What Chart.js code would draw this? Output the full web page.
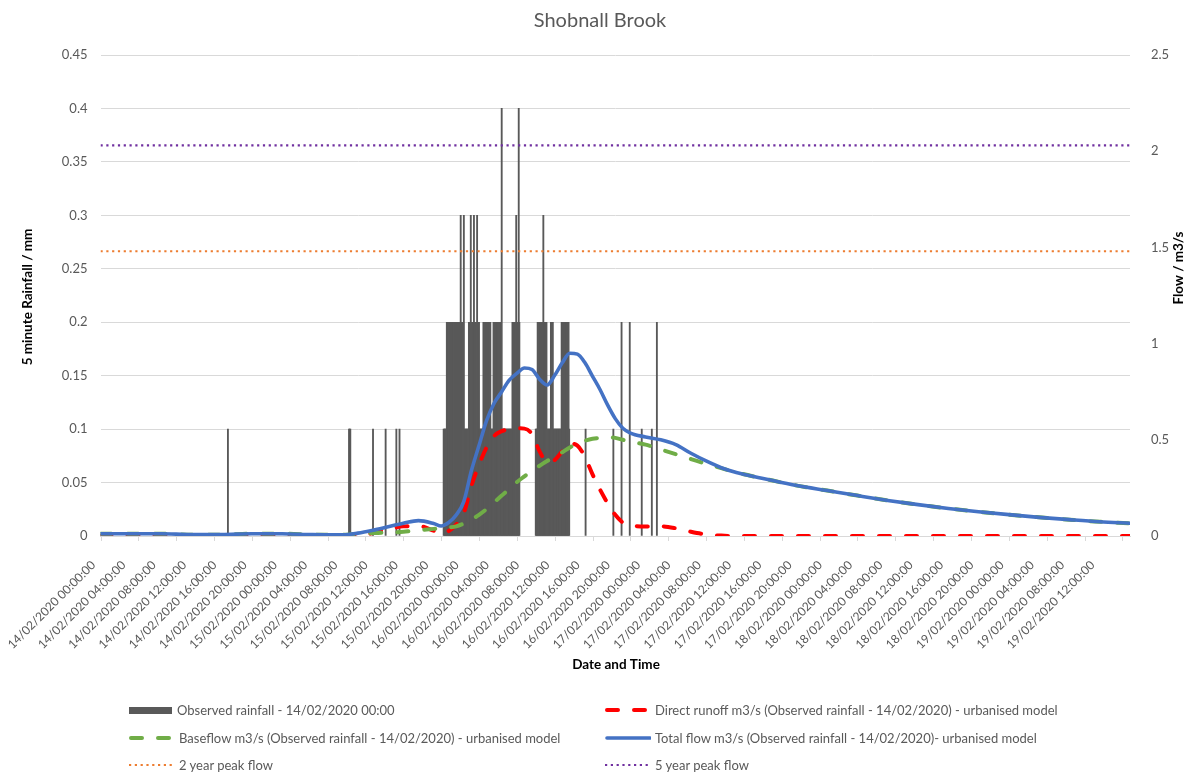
<!DOCTYPE html>
<html>
<head>
<meta charset="utf-8">
<title>Shobnall Brook</title>
<script src="https://cdn.jsdelivr.net/npm/chart.js@4.4.1/dist/chart.umd.min.js"></script>
<style>
  html, body { margin: 0; padding: 0; background: #ffffff; }
  #wrap { position: relative; width: 1189px; height: 775px; overflow: hidden; font-family: Lato, "Open Sans", sans-serif; }
  #chart { position: absolute; left: 0; top: 0; }
  .lg { position: absolute; height: 20px; display: flex; align-items: center; font-size: 13px; color: #595959; white-space: nowrap; }
  .lg svg { display: block; margin-right: 4px; flex: none; }
</style>
</head>
<body>
<div id="wrap">
  <canvas id="chart" width="1189" height="775"></canvas>
  <div id="legend"></div>
</div>
<script>
// ---- text ----
const chartTitle = 'Shobnall Brook';
const xTitle = 'Date and Time';
const rainTitle = '5 minute Rainfall / mm';
const flowTitle = 'Flow / m3/s';
const seriesNames = [
  'Observed rainfall - 14/02/2020 00:00',
  'Direct runoff m3/s (Observed rainfall - 14/02/2020) - urbanised model',
  'Baseflow m3/s (Observed rainfall - 14/02/2020) - urbanised model',
  'Total flow m3/s (Observed rainfall - 14/02/2020)- urbanised model',
  '2 year peak flow',
  '5 year peak flow'
];

// x axis labels, one every 4 hours from 14/02/2020 00:00
const tickLabels = [
  '14/02/2020 00:00:00', '14/02/2020 04:00:00', '14/02/2020 08:00:00', '14/02/2020 12:00:00',
  '14/02/2020 16:00:00', '14/02/2020 20:00:00', '15/02/2020 00:00:00', '15/02/2020 04:00:00',
  '15/02/2020 08:00:00', '15/02/2020 12:00:00', '15/02/2020 16:00:00', '15/02/2020 20:00:00',
  '16/02/2020 00:00:00', '16/02/2020 04:00:00', '16/02/2020 08:00:00', '16/02/2020 12:00:00',
  '16/02/2020 16:00:00', '16/02/2020 20:00:00', '17/02/2020 00:00:00', '17/02/2020 04:00:00',
  '17/02/2020 08:00:00', '17/02/2020 12:00:00', '17/02/2020 16:00:00', '17/02/2020 20:00:00',
  '18/02/2020 00:00:00', '18/02/2020 04:00:00', '18/02/2020 08:00:00', '18/02/2020 12:00:00',
  '18/02/2020 16:00:00', '18/02/2020 20:00:00', '19/02/2020 00:00:00', '19/02/2020 04:00:00',
  '19/02/2020 08:00:00', '19/02/2020 12:00:00'
];

// Observed 5-minute rainfall as runs: [first 5-min step after 14/02 00:00, number of steps, mm].
// Later runs overwrite earlier ones where they overlap (heavier bursts inside a wet spell).
const rainRuns = [
  [202, 1, 0.1], [394, 3, 0.1], [432, 1, 0.1], [452, 1, 0.1], [469, 1, 0.1], [474, 1, 0.1],
  [544, 121, 0.1], [690, 54, 0.1],
  [769, 1, 0.1], [813, 1, 0.1], [826, 1, 0.2], [839, 1, 0.2], [858, 1, 0.1], [874, 1, 0.1], [882, 1, 0.2],
  [549, 22, 0.2], [571, 1, 0.3], [572, 4, 0.2], [576, 1, 0.3],
  [584, 17, 0.2], [587, 1, 0.3], [592, 1, 0.3], [597, 1, 0.3],
  [607, 12, 0.2], [623, 13, 0.2], [636, 1, 0.4],
  [653, 12, 0.2], [659, 1, 0.3], [663, 1, 0.4],
  [693, 15, 0.2], [702, 1, 0.3], [714, 4, 0.2], [731, 12, 0.2]
];

// Modelled flows (m3/s), sampled at these hours after 14/02/2020 00:00
const flowHours = [
  0, 4, 8, 12, 16, 20, 24, 28, 32, 34, 36, 38, 40, 42, 44, 45, 46, 47, 48, 49,
  50, 51, 52, 53, 54, 55, 56, 57, 58, 59, 60, 61, 62, 63, 64, 65, 66, 67, 68, 69,
  70, 72, 74, 76, 78, 80, 82, 84, 88, 92, 96, 100, 104, 108, 112, 116, 120, 124, 128, 132, 136
];
const directRunoff = [
  0, 0, 0, 0, 0, 0, 0, 0, 0, 0.003, 0.015, 0.035, 0.05, 0.052, 0.028, 0.012, 0.026, 0.06, 0.12, 0.26,
  0.37, 0.46, 0.52, 0.545, 0.555, 0.56, 0.558, 0.53, 0.44, 0.385, 0.395, 0.44, 0.48, 0.47, 0.41, 0.32, 0.24, 0.17, 0.11, 0.07,
  0.055, 0.05, 0.05, 0.04, 0.022, 0.008, 0.002, 0, 0, 0, 0, 0, 0, 0, 0, 0, 0, 0, 0, 0, 0
];
const baseflow = [
  0.012, 0.012, 0.012, 0.007, 0.007, 0.012, 0.012, 0.007, 0.006, 0.012, 0.015, 0.018, 0.022, 0.03, 0.037, 0.04, 0.044, 0.05, 0.065, 0.085,
  0.11, 0.14, 0.175, 0.21, 0.245, 0.28, 0.31, 0.34, 0.365, 0.39, 0.41, 0.435, 0.46, 0.48, 0.495, 0.505, 0.51, 0.512, 0.51, 0.5,
  0.49, 0.475, 0.45, 0.425, 0.4, 0.375, 0.353, 0.33, 0.295, 0.262, 0.236, 0.21, 0.185, 0.163, 0.143, 0.126, 0.111, 0.097, 0.085, 0.074, 0.066
];
const totalFlow = [
  0.012, 0.012, 0.012, 0.007, 0.007, 0.012, 0.012, 0.007, 0.006, 0.015, 0.03, 0.048, 0.066, 0.08, 0.065, 0.052, 0.07, 0.11, 0.18, 0.34,
  0.47, 0.6, 0.69, 0.75, 0.81, 0.845, 0.873, 0.865, 0.815, 0.785, 0.835, 0.9, 0.95, 0.945, 0.9, 0.83, 0.76, 0.68, 0.61, 0.56,
  0.535, 0.515, 0.5, 0.475, 0.43, 0.39, 0.355, 0.33, 0.295, 0.262, 0.236, 0.21, 0.185, 0.163, 0.143, 0.126, 0.111, 0.097, 0.085, 0.074, 0.066
];
const peakFlow2yr = 1.48;
const peakFlow5yr = 2.03;
const axisEndHour = 136;

// ---- build chart data ----
const rainBySlot = new Map();
rainRuns.forEach(([start, n, mm]) => {
  for (let k = 0; k < n; k++) rainBySlot.set(start + k, mm);
});
const rainPoints = [...rainBySlot.entries()]
  .sort((a, b) => a[0] - b[0])
  .map(([slot, mm]) => ({ x: slot / 12, y: mm }));

const toPoints = vals => vals.map((v, i) => ({ x: flowHours[i], y: v }));
const flat = v => [{ x: 0, y: v }, { x: axisEndHour, y: v }];

const GREY = '#595959';
const lineBase = { type: 'line', yAxisID: 'y1', pointRadius: 0, fill: false, cubicInterpolationMode: 'monotone' };

const datasets = [
  { type: 'bar', label: seriesNames[0], data: rainPoints, yAxisID: 'y', backgroundColor: '#595959',
    borderWidth: 0, barThickness: 1.2, order: 10 },
  { ...lineBase, label: seriesNames[1], data: toPoints(directRunoff), borderColor: '#ff0000', borderWidth: 4,
    borderDash: [11, 16], borderCapStyle: 'round', order: 6 },
  { ...lineBase, label: seriesNames[2], data: toPoints(baseflow), borderColor: '#70ad47', borderWidth: 4,
    borderDash: [11, 16], borderCapStyle: 'round', order: 5 },
  { ...lineBase, label: seriesNames[3], data: toPoints(totalFlow), borderColor: '#4472c4', borderWidth: 3.6,
    borderCapStyle: 'round', order: 4 },
  { ...lineBase, label: seriesNames[4], data: flat(peakFlow2yr), borderColor: '#ed7d31', borderWidth: 2.2,
    borderDash: [2.2, 3.6], order: 3 },
  { ...lineBase, label: seriesNames[5], data: flat(peakFlow5yr), borderColor: '#7030a0', borderWidth: 2.2,
    borderDash: [2.2, 3.6], order: 2 }
];

const FONT = 'Lato, "Open Sans", sans-serif';
const tidy = v => String(Math.round(v * 100) / 100);

// titles, axis titles and the small x-axis tick marks
const decorations = {
  id: 'decorations',
  afterDraw(chart) {
    const { ctx, chartArea } = chart;
    const x = chart.scales.x;
    ctx.save();
    ctx.strokeStyle = '#d9d9d9';
    ctx.lineWidth = 1;
    for (let h = 0; h <= x.max + 1e-9; h += 5) {
      const px = Math.round(x.getPixelForValue(h)) + 0.5;
      ctx.beginPath();
      ctx.moveTo(px, chartArea.bottom);
      ctx.lineTo(px, chartArea.bottom + 5);
      ctx.stroke();
    }
    ctx.textAlign = 'center';
    ctx.textBaseline = 'middle';
    ctx.fillStyle = GREY;
    ctx.font = '20px ' + FONT;
    ctx.fillText(chartTitle, 600, 21);
    ctx.fillStyle = '#000000';
    ctx.font = 'bold 13.5px ' + FONT;
    ctx.fillText(xTitle, 616, 665);
    ctx.save();
    ctx.translate(28, 297);
    ctx.rotate(-Math.PI / 2);
    ctx.fillText(rainTitle, 0, 0);
    ctx.restore();
    ctx.save();
    ctx.translate(1179, 268);
    ctx.rotate(-Math.PI / 2);
    ctx.fillText(flowTitle, 0, 0);
    ctx.restore();
    ctx.restore();
  }
};

const chart = new Chart(document.getElementById('chart'), {
  type: 'bar',
  data: { datasets },
  options: {
    responsive: false,
    animation: false,
    events: [],
    layout: { padding: { top: 55, left: 0, right: 0, bottom: 0 } },
    plugins: { legend: { display: false }, tooltip: { enabled: false }, title: { display: false } },
    scales: {
      x: {
        type: 'linear',
        offset: false,
        min: 0,
        max: axisEndHour,
        afterBuildTicks: s => { s.ticks = tickLabels.map((_, i) => ({ value: i * 4 })); },
        afterFit: s => { s.height = 239; s.paddingLeft = 0; s.paddingRight = 0; },
        grid: { display: false, offset: false },
        border: { display: true, color: '#d9d9d9' },
        ticks: {
          autoSkip: false, minRotation: 45, maxRotation: 45, padding: 14, labelOffset: -7,
          color: GREY, font: { family: FONT, size: 12.1 },
          callback: (v, i) => tickLabels[i]
        }
      },
      y: {
        position: 'left',
        min: 0, max: 0.45,
        afterFit: s => { s.width = 100.5; },
        grid: { color: '#d9d9d9', drawTicks: false },
        border: { display: false },
        ticks: { stepSize: 0.05, padding: 13, color: GREY, font: { family: FONT, size: 13 }, callback: tidy }
      },
      y1: {
        position: 'right',
        min: 0, max: 2.5,
        afterFit: s => { s.width = 59; },
        grid: { display: false },
        border: { display: false },
        ticks: { stepSize: 0.5, padding: 13, color: GREY, font: { family: FONT, size: 13 }, callback: tidy }
      }
    }
  },
  plugins: [decorations]
});

// two-column legend under the chart, built from the datasets
(function buildLegend() {
  const host = document.getElementById('legend');
  const colX = [129, 605];
  const rowY = [710, 738, 765];
  chart.data.datasets.forEach((ds, i) => {
    const col = i % 2, row = Math.floor(i / 2);
    const item = document.createElement('div');
    item.className = 'lg';
    item.style.left = colX[col] + 'px';
    item.style.top = (rowY[row] - 10) + 'px';
    let sym;
    if (ds.type === 'bar') {
      sym = '<svg width="44" height="10"><rect x="0" y="2" width="43" height="7" fill="' + ds.backgroundColor + '"/></svg>';
    } else {
      const dash = ds.borderDash ? ' stroke-dasharray="' + ds.borderDash.join(' ') + '"' : '';
      const isDash = ds.borderDash && ds.borderDash[0] > 5;
      const cap = isDash || !ds.borderDash ? 'round' : 'butt';
      const x1 = isDash ? 2 : (ds.borderDash ? 0 : 2);
      sym = '<svg width="46" height="10"><line x1="' + x1 + '" y1="5" x2="45" y2="5" stroke="' + ds.borderColor +
        '" stroke-width="' + ds.borderWidth + '" stroke-linecap="' + cap + '"' + dash + '/></svg>';
    }
    item.innerHTML = sym + '<span></span>';
    item.querySelector('span').textContent = ds.label;
    host.appendChild(item);
  });
})();
</script>
</body>
</html>
